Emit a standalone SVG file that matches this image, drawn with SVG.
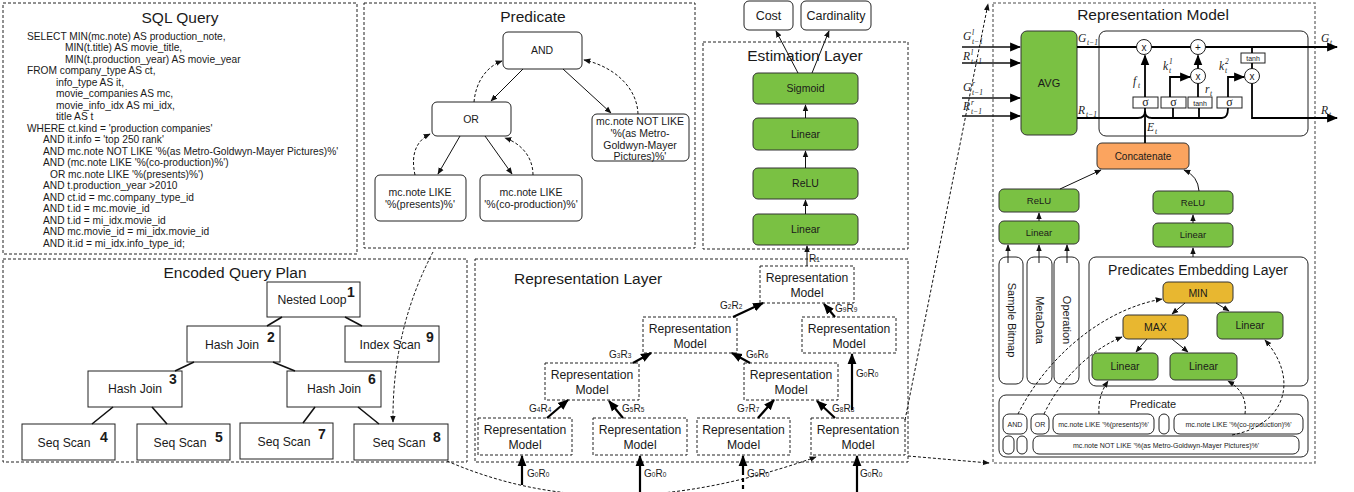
<svg xmlns="http://www.w3.org/2000/svg" width="1354" height="492" viewBox="0 0 1354 492">
<style>
text{font-family:"Liberation Sans",Arial,sans-serif;fill:#1a1a1a}
.panel{fill:none;stroke:#222;stroke-width:1;stroke-dasharray:3 2}
.gpanel{fill:none;stroke:#888;stroke-width:1.6;stroke-dasharray:3 2}
.title{font-size:15.5px;text-anchor:middle}
.sql{font-size:10.2px}
.rbox{fill:#fff;stroke:#222;stroke-width:1}
.sbox{fill:#fff;stroke:#222;stroke-width:1}
.dbox{fill:#fff;stroke:#222;stroke-width:1;stroke-dasharray:3 2}
.green{fill:#7AC143;stroke:#333;stroke-width:1}
.orange{fill:#FBA45F;stroke:#333;stroke-width:1}
.yellow{fill:#E8B730;stroke:#333;stroke-width:1}
.t10{font-size:10.5px;text-anchor:middle}
.t11{font-size:11px;text-anchor:middle}
.t12{font-size:12.2px;text-anchor:middle}
.t7{font-size:7px;text-anchor:middle}
.num{font-size:14px;font-weight:bold}
.lbl{font-size:10px}
.sub{font-size:6.5px}
.m{font-family:"Liberation Serif","Times New Roman",serif;font-style:italic;font-size:11.5px}
.ms{font-family:"Liberation Serif","Times New Roman",serif;font-style:italic;font-size:7.5px}
.sig{font-family:"Liberation Serif","Times New Roman",serif;font-size:12px;text-anchor:middle}
.ln{fill:none;stroke:#111;stroke-width:1}
.lnb{fill:none;stroke:#111;stroke-width:1.6}
.bold{fill:none;stroke:#000;stroke-width:2.2}
.dash{fill:none;stroke:#111;stroke-width:1;stroke-dasharray:3 2}
</style>
<defs>
<marker id="a" viewBox="0 0 10 10" refX="9" refY="5" markerWidth="7" markerHeight="7" orient="auto" markerUnits="userSpaceOnUse"><path d="M0,1 L10,5 L0,9 z" fill="#111"/></marker>
<marker id="ab" viewBox="0 0 10 10" refX="9" refY="5" markerWidth="11" markerHeight="11" orient="auto" markerUnits="userSpaceOnUse"><path d="M0,1 L10,5 L0,9 z" fill="#000"/></marker>
</defs>

<!-- SQL Query panel -->
<g id="sql-query">
<rect class="panel" x="3" y="3" width="354" height="251"/>
<text class="title" x="180" y="23">SQL Query</text>
<text class="sql" x="27" y="39.5">SELECT MIN(mc.note) AS production_note,</text>
<text class="sql" x="65" y="51">MIN(t.title) AS movie_title,</text>
<text class="sql" x="65" y="62.5">MIN(t.production_year) AS movie_year</text>
<text class="sql" x="27" y="74">FROM company_type AS ct,</text>
<text class="sql" x="56" y="85.5">info_type AS it,</text>
<text class="sql" x="56" y="97">movie_companies AS mc,</text>
<text class="sql" x="56" y="108.5">movie_info_idx AS mi_idx,</text>
<text class="sql" x="56" y="120">title AS t</text>
<text class="sql" x="27" y="131.5">WHERE ct.kind = 'production companies'</text>
<text class="sql" x="43" y="143">AND it.info = 'top 250 rank'</text>
<text class="sql" x="43" y="154.5">AND mc.note NOT LIKE '%(as Metro-Goldwyn-Mayer Pictures)%'</text>
<text class="sql" x="43" y="166">AND (mc.note LIKE '%(co-production)%')</text>
<text class="sql" x="50" y="177.5">OR mc.note LIKE '%(presents)%')</text>
<text class="sql" x="43" y="189">AND t.production_year &gt;2010</text>
<text class="sql" x="43" y="200.5">AND ct.id = mc.company_type_id</text>
<text class="sql" x="43" y="212">AND t.id = mc.movie_id</text>
<text class="sql" x="43" y="223.5">AND t.id = mi_idx.movie_id</text>
<text class="sql" x="43" y="235">AND mc.movie_id = mi_idx.movie_id</text>
<text class="sql" x="43" y="246.5">AND it.id = mi_idx.info_type_id;</text>
</g>

<!-- Predicate panel -->
<g id="predicate-panel">
<rect class="panel" x="364" y="3" width="331" height="245"/>
<text class="title" x="533" y="22">Predicate</text>
</g>
<g id="p-and"><rect class="rbox" x="503" y="32" width="79" height="37" rx="5"/><text class="t10" x="542" y="54">AND</text></g>
<g id="p-or"><rect class="rbox" x="432" y="102" width="79" height="34" rx="5"/><text class="t10" x="471" y="123">OR</text></g>
<g id="p-not"><rect class="rbox" x="592" y="114" width="97" height="47" rx="5"/>
<text class="t10" x="640" y="125">mc.note NOT LIKE</text><text class="t10" x="640" y="137">'%(as Metro-</text><text class="t10" x="640" y="149">Goldwyn-Mayer</text><text class="t10" x="640" y="160">Pictures)%'</text></g>
<g id="p-presents"><rect class="rbox" x="375" y="175" width="91" height="46" rx="5"/>
<text class="t10" x="420" y="196">mc.note LIKE</text><text class="t10" x="420" y="208">'%(presents)%'</text></g>
<g id="p-coprod"><rect class="rbox" x="480" y="175" width="102" height="46" rx="5"/>
<text class="t10" x="531" y="196">mc.note LIKE</text><text class="t10" x="531" y="208">'%(co-production)%'</text></g>

<!-- Estimation layer -->
<g id="estimation-layer">
<rect class="panel" x="703" y="42" width="205" height="207"/>
<text class="title" x="805" y="61">Estimation Layer</text>
</g>
<g id="cost"><rect class="rbox" x="744" y="1" width="49" height="29" rx="5"/><text x="768.5" y="20" style="font-size:12.5px;text-anchor:middle">Cost</text></g>
<g id="cardinality"><rect class="rbox" x="801" y="1" width="70" height="29" rx="5"/><text x="836" y="20" style="font-size:12.5px;text-anchor:middle">Cardinality</text></g>
<g id="e-sigmoid"><rect class="green" x="753" y="73" width="105" height="31" rx="5"/><text class="t10" x="805.5" y="92">Sigmoid</text></g>
<g id="e-linear2"><rect class="green" x="753" y="118" width="105" height="32" rx="5"/><text class="t10" x="805.5" y="138">Linear</text></g>
<g id="e-relu"><rect class="green" x="753" y="168" width="105" height="31" rx="5"/><text class="t10" x="805.5" y="187">ReLU</text></g>
<g id="e-linear1"><rect class="green" x="753" y="214" width="105" height="31" rx="5"/><text class="t10" x="805.5" y="233">Linear</text></g>

<!-- Encoded Query Plan -->
<g id="query-plan">
<rect class="panel" x="3" y="259" width="464" height="203"/>
<text class="title" x="235" y="278">Encoded Query Plan</text>
</g>
<g id="n1"><rect class="sbox" x="267" y="282" width="93" height="35"/><text class="t12" x="312" y="304">Nested Loop</text><text class="num" x="347" y="297">1</text></g>
<g id="n2"><rect class="sbox" x="187" y="326" width="93" height="36"/><text class="t12" x="232" y="349">Hash Join</text><text class="num" x="267" y="342">2</text></g>
<g id="n9"><rect class="sbox" x="345" y="326" width="94" height="36"/><text class="t12" x="390" y="349">Index Scan</text><text class="num" x="426" y="342">9</text></g>
<g id="n3"><rect class="sbox" x="88" y="371" width="94" height="36"/><text class="t12" x="135" y="393">Hash Join</text><text class="num" x="169" y="384">3</text></g>
<g id="n6"><rect class="sbox" x="287" y="371" width="94" height="36"/><text class="t12" x="334" y="393">Hash Join</text><text class="num" x="368" y="384">6</text></g>
<g id="n4"><rect class="sbox" x="22" y="424" width="93" height="36"/><text class="t12" x="64" y="447">Seq Scan</text><text class="num" x="100" y="442">4</text></g>
<g id="n5"><rect class="sbox" x="137" y="424" width="93" height="36"/><text class="t12" x="180" y="447">Seq Scan</text><text class="num" x="215" y="442">5</text></g>
<g id="n7"><rect class="sbox" x="240" y="423" width="93" height="36"/><text class="t12" x="284" y="446">Seq Scan</text><text class="num" x="318" y="439">7</text></g>
<g id="n8"><rect class="sbox" x="354" y="424" width="94" height="36"/><text class="t12" x="399" y="447">Seq Scan</text><text class="num" x="433" y="442">8</text></g>

<!-- Representation Layer -->
<g id="representation-layer">
<rect class="panel" x="475" y="259" width="433" height="203"/>
<text x="514" y="284" style="font-size:15.5px">Representation Layer</text>
</g>
<g id="rm-top"><rect class="dbox" x="760" y="266" width="94" height="37"/><text class="t12" x="807" y="282">Representation</text><text class="t12" x="807" y="297">Model</text></g>
<g id="rm-2l"><rect class="dbox" x="643" y="317" width="94" height="36"/><text class="t12" x="690" y="333">Representation</text><text class="t12" x="690" y="348">Model</text></g>
<g id="rm-2r"><rect class="dbox" x="802" y="317" width="94" height="36"/><text class="t12" x="849" y="333">Representation</text><text class="t12" x="849" y="348">Model</text></g>
<g id="rm-3l"><rect class="dbox" x="545" y="363" width="94" height="37"/><text class="t12" x="592" y="379">Representation</text><text class="t12" x="592" y="394">Model</text></g>
<g id="rm-3r"><rect class="dbox" x="744" y="363" width="94" height="37"/><text class="t12" x="791" y="379">Representation</text><text class="t12" x="791" y="394">Model</text></g>
<g id="rm-b1"><rect class="dbox" x="478" y="418" width="94" height="37"/><text class="t12" x="525" y="434">Representation</text><text class="t12" x="525" y="449">Model</text></g>
<g id="rm-b2"><rect class="dbox" x="593" y="418" width="94" height="37"/><text class="t12" x="640" y="434">Representation</text><text class="t12" x="640" y="449">Model</text></g>
<g id="rm-b3"><rect class="dbox" x="697" y="418" width="93" height="37"/><text class="t12" x="743.5" y="434">Representation</text><text class="t12" x="743.5" y="449">Model</text></g>
<g id="rm-b4"><rect class="dbox" x="811" y="418" width="94" height="37"/><text class="t12" x="858" y="434">Representation</text><text class="t12" x="858" y="449">Model</text></g>

<!-- Representation Model panel -->
<g id="representation-model">
<rect class="gpanel" x="993" y="3" width="322" height="460"/>
<text class="title" x="1153" y="20">Representation Model</text>
<rect x="1099" y="31" width="209" height="105" rx="7" fill="none" stroke="#222" stroke-width="1"/>
</g>
<g id="avg"><rect class="green" x="1021" y="31" width="56" height="104" rx="6"/><text class="t11" x="1049" y="87">AVG</text></g>
<g id="cell">
<circle cx="1144" cy="47" r="7.5" fill="#fff" stroke="#222"/><text x="1144" y="51" style="font-size:10px;text-anchor:middle">x</text>
<circle cx="1198" cy="47" r="7.5" fill="#fff" stroke="#222"/><text x="1198" y="51" style="font-size:10px;text-anchor:middle">+</text>
<circle cx="1198" cy="76" r="7.5" fill="#fff" stroke="#222"/><text x="1198" y="80" style="font-size:10px;text-anchor:middle">x</text>
<circle cx="1252" cy="76" r="7.5" fill="#fff" stroke="#222"/><text x="1252" y="80" style="font-size:10px;text-anchor:middle">x</text>
<rect x="1241" y="53" width="24" height="10" fill="#fff" stroke="#222"/><text x="1253" y="61" style="font-size:7px;text-anchor:middle">tanh</text>
<rect x="1133" y="97" width="25" height="11" fill="#fff" stroke="#222"/><text class="sig" x="1145.5" y="106">σ</text>
<rect x="1161" y="97" width="25" height="11" fill="#fff" stroke="#222"/><text class="sig" x="1173.5" y="106">σ</text>
<rect x="1188" y="97" width="24" height="11" fill="#fff" stroke="#222"/><text x="1200" y="105.5" style="font-size:7px;text-anchor:middle">tanh</text>
<rect x="1217" y="97" width="25" height="11" fill="#fff" stroke="#222"/><text class="sig" x="1229.5" y="106">σ</text>
</g>
<g id="concatenate"><rect class="orange" x="1097" y="143" width="92" height="26" rx="5"/><text x="1143" y="160" style="font-size:10px;text-anchor:middle">Concatenate</text></g>
<g id="relu-l"><rect class="green" x="999" y="189" width="80" height="23" rx="5"/><text x="1039" y="204" style="font-size:9.5px;text-anchor:middle">ReLU</text></g>
<g id="linear-l"><rect class="green" x="999" y="221" width="80" height="23" rx="5"/><text x="1039" y="236" style="font-size:9.5px;text-anchor:middle">Linear</text></g>
<g id="relu-r"><rect class="green" x="1153" y="191" width="80" height="23" rx="5"/><text x="1193" y="206" style="font-size:9.5px;text-anchor:middle">ReLU</text></g>
<g id="linear-r"><rect class="green" x="1153" y="223" width="80" height="24" rx="5"/><text x="1193" y="238" style="font-size:9.5px;text-anchor:middle">Linear</text></g>
<g id="sample-bitmap"><rect class="rbox" x="999" y="257" width="24" height="127" rx="7"/><text transform="translate(1007.5 320) rotate(90)" x="0" y="0" class="t11">Sample Bitmap</text></g>
<g id="metadata"><rect class="rbox" x="1027" y="257" width="25" height="127" rx="7"/><text transform="translate(1036 320) rotate(90)" x="0" y="0" class="t11">MetaData</text></g>
<g id="operation"><rect class="rbox" x="1054" y="257" width="25" height="127" rx="7"/><text transform="translate(1063 320) rotate(90)" x="0" y="0" class="t11">Operation</text></g>
<g id="pred-embed"><rect class="rbox" x="1089" y="257" width="219" height="129" rx="7"/><text x="1198" y="275" style="font-size:14px;text-anchor:middle">Predicates Embedding Layer</text></g>
<g id="min"><rect class="yellow" x="1163" y="282" width="70" height="21" rx="5"/><text class="t10" x="1198" y="296.5">MIN</text></g>
<g id="max"><rect class="yellow" x="1123" y="315" width="65" height="24" rx="5"/><text class="t10" x="1155.5" y="331">MAX</text></g>
<g id="pe-linear-r"><rect class="green" x="1217" y="312" width="66" height="27" rx="5"/><text class="t10" x="1250" y="329">Linear</text></g>
<g id="pe-linear-bl"><rect class="green" x="1092" y="353" width="66" height="27" rx="5"/><text class="t10" x="1125" y="370">Linear</text></g>
<g id="pe-linear-br"><rect class="green" x="1170" y="353" width="67" height="27" rx="5"/><text class="t10" x="1203.5" y="370">Linear</text></g>
<g id="pred-box"><rect class="rbox" x="999" y="395" width="309" height="62" rx="7"/><text x="1153" y="408" style="font-size:11px;text-anchor:middle">Predicate</text>
<rect class="rbox" x="1003" y="414" width="24" height="20" rx="6"/><text class="t7" x="1015" y="426.5">AND</text>
<rect class="rbox" x="1031" y="414" width="18" height="20" rx="6"/><text class="t7" x="1040" y="426.5">OR</text>
<rect class="rbox" x="1053" y="414" width="101" height="20" rx="6"/><text class="t7" x="1103.5" y="426.5">mc.note LIKE '%(presents)%'</text>
<rect class="rbox" x="1159" y="414" width="10" height="20" rx="5"/>
<rect class="rbox" x="1174" y="414" width="129" height="20" rx="6"/><text class="t7" x="1238.5" y="426.5">mc.note LIKE '%(co-production)%'</text>
<rect class="rbox" x="1003" y="436" width="11" height="18" rx="5"/>
<rect class="rbox" x="1017" y="436" width="10" height="18" rx="5"/>
<rect class="rbox" x="1033" y="436" width="266" height="18" rx="6"/><text class="t7" x="1166" y="447.5">mc.note NOT LIKE '%(as Metro-Goldwyn-Mayer Pictures)%'</text>
</g>

<!-- Labels (math) -->
<g id="math-labels">
<text class="m" x="963" y="40">G</text><text class="ms" x="972" y="35">l</text><text class="ms" x="972" y="44">t−1</text>
<text class="m" x="963" y="60">R</text><text class="ms" x="971" y="55">l</text><text class="ms" x="971" y="64">t−1</text>
<text class="m" x="963" y="91">G</text><text class="ms" x="972" y="86">r</text><text class="ms" x="972" y="95">t−1</text>
<text class="m" x="963" y="110">R</text><text class="ms" x="971" y="105">r</text><text class="ms" x="971" y="114">t−1</text>
<text class="m" x="1078" y="42">G</text><text class="ms" x="1087" y="45">t−1</text>
<text class="m" x="1078" y="114">R</text><text class="ms" x="1086" y="117">t−1</text>
<text class="m" x="1321" y="42">G</text><text class="ms" x="1330" y="45">t</text>
<text class="m" x="1321" y="114">R</text><text class="ms" x="1329" y="117">t</text>
<text class="m" x="1147" y="131">E</text><text class="ms" x="1155" y="134">t</text>
<text class="m" x="1133" y="85">f</text><text class="ms" x="1138" y="88">t</text>
<text class="m" x="1163" y="70">k</text><text class="ms" x="1169" y="64">1</text><text class="ms" x="1169" y="73">t</text>
<text class="m" x="1219" y="70">k</text><text class="ms" x="1225" y="64">2</text><text class="ms" x="1225" y="73">t</text>
<text class="m" x="1205" y="93">r</text><text class="ms" x="1210" y="96">t</text>
</g>

<!-- Rep layer labels -->
<g id="rl-labels">
<text class="lbl" x="720" y="309">G<tspan class="sub">2</tspan>R<tspan class="sub">2</tspan></text>
<text class="lbl" x="835" y="312">G<tspan class="sub">9</tspan>R<tspan class="sub">9</tspan></text>
<text class="lbl" x="609" y="358">G<tspan class="sub">3</tspan>R<tspan class="sub">3</tspan></text>
<text class="lbl" x="746" y="358">G<tspan class="sub">6</tspan>R<tspan class="sub">6</tspan></text>
<text class="lbl" x="856" y="377">G<tspan class="sub">0</tspan>R<tspan class="sub">0</tspan></text>
<text class="lbl" x="529" y="412">G<tspan class="sub">4</tspan>R<tspan class="sub">4</tspan></text>
<text class="lbl" x="622" y="412">G<tspan class="sub">5</tspan>R<tspan class="sub">5</tspan></text>
<text class="lbl" x="737" y="412">G<tspan class="sub">7</tspan>R<tspan class="sub">7</tspan></text>
<text class="lbl" x="832" y="412">G<tspan class="sub">8</tspan>R<tspan class="sub">8</tspan></text>
<text class="lbl" x="527" y="477">G<tspan class="sub">0</tspan>R<tspan class="sub">0</tspan></text>
<text class="lbl" x="644" y="477">G<tspan class="sub">0</tspan>R<tspan class="sub">0</tspan></text>
<text class="lbl" x="747" y="477">G<tspan class="sub">0</tspan>R<tspan class="sub">0</tspan></text>
<text class="lbl" x="860" y="477">G<tspan class="sub">0</tspan>R<tspan class="sub">0</tspan></text>
<text class="lbl" x="809" y="262">R<tspan class="sub">1</tspan></text>
</g>

<!-- Connectors -->
<g id="connectors">
<!-- predicate tree -->
<line class="ln" x1="523" y1="69" x2="491" y2="101" marker-end="url(#a)"/>
<line class="ln" x1="563" y1="69" x2="611" y2="113" marker-end="url(#a)"/>
<line class="ln" x1="460" y1="136" x2="438" y2="174" marker-end="url(#a)"/>
<line class="ln" x1="485" y1="136" x2="512" y2="174" marker-end="url(#a)"/>
<path class="dash" d="M415 175 C410 152,418 140,430 134" marker-end="url(#a)"/>
<path class="dash" d="M533 175 C533 156,520 143,505 138" marker-end="url(#a)"/>
<path class="dash" d="M474 102 C476 80,488 66,502 61" marker-end="url(#a)"/>
<path class="dash" d="M638 114 C637 86,612 66,584 60" marker-end="url(#a)"/>
<!-- estimation -->
<line class="ln" x1="805.5" y1="118" x2="805.5" y2="105" marker-end="url(#a)"/>
<line class="ln" x1="805.5" y1="168" x2="805.5" y2="151" marker-end="url(#a)"/>
<line class="ln" x1="805.5" y1="214" x2="805.5" y2="200" marker-end="url(#a)"/>
<line class="ln" x1="807" y1="266" x2="807" y2="246" marker-end="url(#a)"/>
<line class="ln" x1="798" y1="73" x2="776" y2="31" marker-end="url(#a)"/>
<line class="ln" x1="812" y1="73" x2="829" y2="31" marker-end="url(#a)"/>
<!-- query plan edges -->
<g class="lnb">
<line x1="282" y1="317" x2="267" y2="326"/>
<line x1="345" y1="317" x2="362" y2="326"/>
<line x1="194" y1="362" x2="175" y2="371"/>
<line x1="273" y1="362" x2="295" y2="371"/>
<line x1="113" y1="407" x2="92" y2="424"/>
<line x1="152" y1="407" x2="167" y2="424"/>
<line x1="315" y1="407" x2="303" y2="423"/>
<line x1="358" y1="407" x2="379" y2="424"/>
</g>
<!-- representation layer -->
<g class="bold">
<line x1="733" y1="317" x2="763" y2="303" marker-end="url(#ab)"/>
<line x1="835" y1="317" x2="824" y2="304" marker-end="url(#ab)"/>
<line x1="633" y1="363" x2="651" y2="353" marker-end="url(#ab)"/>
<line x1="750" y1="363" x2="732" y2="353" marker-end="url(#ab)"/>
<line x1="852" y1="410" x2="852" y2="354" marker-end="url(#ab)"/>
<line x1="547" y1="418" x2="568" y2="400" marker-end="url(#ab)"/>
<line x1="623" y1="418" x2="609" y2="401" marker-end="url(#ab)"/>
<line x1="758" y1="418" x2="774" y2="400" marker-end="url(#ab)"/>
<line x1="835" y1="418" x2="817" y2="401" marker-end="url(#ab)"/>
<line x1="522" y1="485" x2="522" y2="456" marker-end="url(#ab)"/>
<line x1="640" y1="492" x2="640" y2="456" marker-end="url(#ab)"/>
<line x1="743" y1="471" x2="743" y2="456" marker-end="url(#ab)"/>
<line x1="857" y1="492" x2="857" y2="456" marker-end="url(#ab)"/>
</g>
<line x1="743" y1="471" x2="743" y2="492" stroke="#000" stroke-width="2.2" stroke-dasharray="4 3"/>
<!-- cross-panel dashed -->
<path class="dash" d="M433 252 Q392 330 393 422" marker-end="url(#a)"/>
<path class="dash" d="M447 461 C560 510,680 505,816 457" marker-end="url(#a)"/>
<path class="dash" d="M908 456 L989 463" marker-end="url(#a)"/>
<path class="dash" d="M905 420 L988 4" marker-end="url(#a)"/>
<!-- rep model inputs -->
<g class="lnb">
<line x1="962" y1="47" x2="1020" y2="47" marker-end="url(#ab)"/>
<line x1="962" y1="63" x2="1020" y2="63" marker-end="url(#ab)"/>
<line x1="962" y1="98" x2="1020" y2="98" marker-end="url(#ab)"/>
<line x1="962" y1="116" x2="1020" y2="116" marker-end="url(#ab)"/>
</g>
<!-- cell lines -->
<g fill="none" stroke="#000" stroke-width="1.8">
<line x1="1077" y1="47" x2="1136.5" y2="47"/>
<line x1="1151.5" y1="47" x2="1190.5" y2="47"/>
<line x1="1205.5" y1="47" x2="1337" y2="47" marker-end="url(#ab)"/>
<path d="M1077 118 H1138 Q1145 118 1145 111"/>
<path d="M1145 111 Q1145 118 1152 118 H1222 Q1228 118 1228 108"/>
<line x1="1145" y1="143" x2="1145" y2="108"/>
<line x1="1145" y1="97" x2="1145" y2="55.5" marker-end="url(#ab)"/>
<line x1="1173" y1="118" x2="1173" y2="108"/>
<line x1="1199" y1="118" x2="1199" y2="108"/>
<path d="M1170 97 V77 H1190" marker-end="url(#ab)"/>
<line x1="1198" y1="97" x2="1198" y2="83.5"/>
<line x1="1198" y1="68.5" x2="1198" y2="55.5" marker-end="url(#ab)"/>
<path d="M1228 97 V77 H1244" marker-end="url(#ab)"/>
<line x1="1252" y1="47" x2="1252" y2="53"/>
<line x1="1252" y1="63" x2="1252" y2="68.5"/>
<path d="M1252 83.5 V118 H1337" marker-end="url(#ab)"/>
</g>
<!-- rep model lower -->
<line class="ln" x1="1060" y1="189" x2="1101" y2="170" marker-end="url(#a)"/>
<path class="ln" d="M1199 191 Q1198 176 1184 170" marker-end="url(#a)"/>
<line class="ln" x1="1039" y1="221" x2="1039" y2="213" marker-end="url(#a)"/>
<line class="ln" x1="1193" y1="223" x2="1193" y2="215" marker-end="url(#a)"/>
<line class="ln" x1="1193" y1="257" x2="1193" y2="248" marker-end="url(#a)"/>
<line class="ln" x1="1008" y1="263" x2="1008" y2="245" marker-end="url(#a)"/>
<line class="ln" x1="1039" y1="263" x2="1039" y2="245" marker-end="url(#a)"/>
<line class="ln" x1="1067" y1="263" x2="1067" y2="245" marker-end="url(#a)"/>
<line class="ln" x1="1185" y1="303" x2="1172" y2="314" marker-end="url(#a)"/>
<line class="ln" x1="1216" y1="303" x2="1229" y2="311" marker-end="url(#a)"/>
<line class="ln" x1="1147" y1="339" x2="1136" y2="352" marker-end="url(#a)"/>
<line class="ln" x1="1172" y1="339" x2="1188" y2="352" marker-end="url(#a)"/>
<path class="dash" d="M1018 414 C1045 360,1100 310,1162 299" marker-end="url(#a)"/>
<path class="dash" d="M1044 414 C1060 380,1090 350,1122 337" marker-end="url(#a)"/>
<path class="dash" d="M1099 414 C1098 400,1102 390,1108 381" marker-end="url(#a)"/>
<path class="dash" d="M1245 414 C1247 398,1240 388,1228 381" marker-end="url(#a)"/>
<path class="dash" d="M1232 435 C1285 425,1300 380,1265 340" marker-end="url(#a)"/>
</g>
</svg>
